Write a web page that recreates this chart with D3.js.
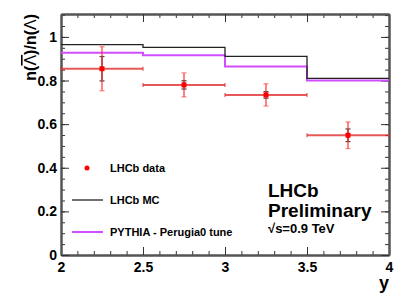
<!DOCTYPE html>
<html>
<head>
<meta charset="utf-8">
<script src="https://cdn.jsdelivr.net/npm/d3@7"></script>
<style>
body { margin: 0; background: #fff; }
svg text { font-family: "Liberation Sans", Arial, sans-serif; font-weight: bold; }
</style>
</head>
<body>
<svg class="chart" width="409" height="307"></svg>
<script>
// bins in rapidity y
var binEdges = [2, 2.5, 3, 3.5, 4];
var binCenters = [2.25, 2.75, 3.25, 3.75];
// LHCb data with stat and total errors
var dataVal = [0.854, 0.780, 0.734, 0.549];
var statErr = [0.056, 0.019, 0.015, 0.029];
var totErr = [0.101, 0.055, 0.051, 0.061];
// predictions
var mcVal = [0.965, 0.952, 0.911, 0.810];
var pythiaVal = [0.927, 0.916, 0.864, 0.800];

var xTicks = [2, 2.5, 3, 3.5, 4];
var yTicks = [0, 0.2, 0.4, 0.6, 0.8, 1];

var margin = {top: 14, right: 20, bottom: 52, left: 61};
var width = 409 - margin.left - margin.right;
var height = 307 - margin.top - margin.bottom;

var svg = d3.select(".chart");
var chart = svg.append("g")
    .attr("transform", "translate(" + margin.left + "," + margin.top + ")");

var x = d3.scaleLinear().domain([2, 4]).range([0, width]);
var y = d3.scaleLinear().domain([0, 1.105]).range([height, 0]);

// minor ticks
var xMinor = d3.range(2, 4.001, 0.1);
var yMinor = d3.range(0, 1.101, 0.05);

function minor(axis, vals) {
    return axis.tickValues(vals).tickSize(-4).tickSizeOuter(0).tickFormat("");
}
function styleAxis(g) {
    g.selectAll(".tick line").attr("stroke", "#333").attr("stroke-width", 1);
    g.select(".domain").attr("stroke", "#555").attr("stroke-width", 2);
    g.selectAll("text").attr("fill", "#000").style("font-size", "14px");
}

chart.append("g").attr("transform", "translate(0," + height + ")")
    .call(minor(d3.axisBottom(x), xMinor)).call(styleAxis);
chart.append("g").call(minor(d3.axisTop(x), xMinor)).call(styleAxis);
chart.append("g").call(minor(d3.axisLeft(y), yMinor)).call(styleAxis);
chart.append("g").attr("transform", "translate(" + width + ",0)")
    .call(minor(d3.axisRight(y), yMinor)).call(styleAxis);

chart.append("g").attr("transform", "translate(0," + height + ")")
    .call(d3.axisBottom(x).tickValues(xTicks).tickSize(-8).tickSizeOuter(0).tickPadding(7)
        .tickFormat(function(d){ return d; }))
    .call(styleAxis);
chart.append("g")
    .call(d3.axisTop(x).tickValues(xTicks).tickSize(-8).tickSizeOuter(0).tickFormat(""))
    .call(styleAxis);
chart.append("g")
    .call(d3.axisLeft(y).tickValues(yTicks).tickSize(-8).tickSizeOuter(0).tickPadding(4)
        .tickFormat(function(d){ return d; }))
    .call(styleAxis);
chart.append("g").attr("transform", "translate(" + width + ",0)")
    .call(d3.axisRight(y).tickValues(yTicks).tickSize(-8).tickSizeOuter(0).tickFormat(""))
    .call(styleAxis);

// step histograms
function stepPoints(vals) {
    var pts = binEdges.slice(0, -1).map(function(e, i){ return [e, vals[i]]; });
    pts.push([binEdges[binEdges.length - 1], vals[vals.length - 1]]);
    return pts;
}
var step = d3.line()
    .x(function(d){ return x(d[0]); })
    .y(function(d){ return y(d[1]); })
    .curve(d3.curveStepAfter);

chart.append("path").attr("d", step(stepPoints(pythiaVal)))
    .attr("fill", "none").attr("stroke", "#d24dff").attr("stroke-width", 2);
chart.append("path").attr("d", step(stepPoints(mcVal)))
    .attr("fill", "none").attr("stroke", "#222").attr("stroke-width", 1.3);

// data points
var pts = chart.selectAll(".pt").data(binCenters).enter().append("g").attr("class", "pt");
// stat errors (black)
pts.append("line")
    .attr("x1", function(d){ return x(d); }).attr("x2", function(d){ return x(d); })
    .attr("y1", function(d, i){ return y(dataVal[i] + statErr[i]); })
    .attr("y2", function(d, i){ return y(dataVal[i] - statErr[i]); })
    .attr("stroke", "#444").attr("stroke-width", 1.5);
[1, -1].forEach(function(s){
    pts.append("line")
        .attr("x1", function(d){ return x(d) - 2.5; }).attr("x2", function(d){ return x(d) + 2.5; })
        .attr("y1", function(d, i){ return y(dataVal[i] + s * statErr[i]); })
        .attr("y2", function(d, i){ return y(dataVal[i] + s * statErr[i]); })
        .attr("stroke", "#444").attr("stroke-width", 1.2);
});
// horizontal bin width
pts.append("line")
    .attr("x1", function(d, i){ return x(binEdges[i]); })
    .attr("x2", function(d, i){ return x(binEdges[i + 1]); })
    .attr("y1", function(d, i){ return y(dataVal[i]); })
    .attr("y2", function(d, i){ return y(dataVal[i]); })
    .attr("stroke", "#e03030").attr("stroke-opacity", 0.8).attr("stroke-width", 2);
[0, 1].forEach(function(k){
    pts.append("line")
        .attr("x1", function(d, i){ return x(binEdges[i + k]); })
        .attr("x2", function(d, i){ return x(binEdges[i + k]); })
        .attr("y1", function(d, i){ return y(dataVal[i]) - 2; })
        .attr("y2", function(d, i){ return y(dataVal[i]) + 2; })
        .attr("stroke", "#e03030").attr("stroke-opacity", 0.8).attr("stroke-width", 1.2);
});
// total errors (red)
pts.append("line")
    .attr("x1", function(d){ return x(d); }).attr("x2", function(d){ return x(d); })
    .attr("y1", function(d, i){ return y(dataVal[i] + totErr[i]); })
    .attr("y2", function(d, i){ return y(dataVal[i] - totErr[i]); })
    .attr("stroke", "#ff3030").attr("stroke-opacity", 0.6).attr("stroke-width", 2);
[1, -1].forEach(function(s){
    pts.append("line")
        .attr("x1", function(d){ return x(d) - 2.5; }).attr("x2", function(d){ return x(d) + 2.5; })
        .attr("y1", function(d, i){ return y(dataVal[i] + s * totErr[i]); })
        .attr("y2", function(d, i){ return y(dataVal[i] + s * totErr[i]); })
        .attr("stroke", "#ff3030").attr("stroke-opacity", 0.6).attr("stroke-width", 1.2);
});
pts.append("rect")
    .attr("x", function(d){ return x(d) - 2.5; })
    .attr("y", function(d, i){ return y(dataVal[i]) - 2.5; })
    .attr("width", 5).attr("height", 5)
    .attr("fill", "#ff0000");

// legend
var leg = chart.append("g");
leg.append("circle").attr("cx", 26).attr("cy", 154).attr("r", 2.5).attr("fill", "#ff0000");
leg.append("line").attr("x1", 11).attr("x2", 42).attr("y1", 186).attr("y2", 186)
    .attr("stroke", "#222").attr("stroke-width", 1.3);
leg.append("line").attr("x1", 11).attr("x2", 42).attr("y1", 218).attr("y2", 218)
    .attr("stroke", "#d24dff").attr("stroke-width", 2);
var legTexts = ["LHCb data", "LHCb MC", "PYTHIA - Perugia0 tune"];
leg.selectAll(".lt").data(legTexts).enter().append("text")
    .attr("x", 49).attr("y", function(d, i){ return 158 + i * 32; })
    .style("font-size", "11px").text(function(d){ return d; });

// LHCb label
chart.append("text").attr("x", 207).attr("y", 183).style("font-size", "19px").text("LHCb");
chart.append("text").attr("x", 207).attr("y", 203).style("font-size", "19px").text("Preliminary");
chart.append("text").attr("x", 207).attr("y", 219).style("font-size", "13px").text("√s=0.9 TeV");

// axis titles
svg.append("text").attr("x", 389).attr("y", 289).attr("text-anchor", "end")
    .style("font-size", "18px").text("y");
var yl = svg.append("text")
    .attr("transform", "translate(36,14) rotate(-90)")
    .attr("text-anchor", "end").style("font-size", "16px");
yl.append("tspan").text("n(");
yl.append("tspan").style("font-weight", "normal").style("text-decoration", "overline").text("Λ");
yl.append("tspan").text(")/n(");
yl.append("tspan").style("font-weight", "normal").text("Λ");
yl.append("tspan").text(")");
</script>
</body>
</html>
